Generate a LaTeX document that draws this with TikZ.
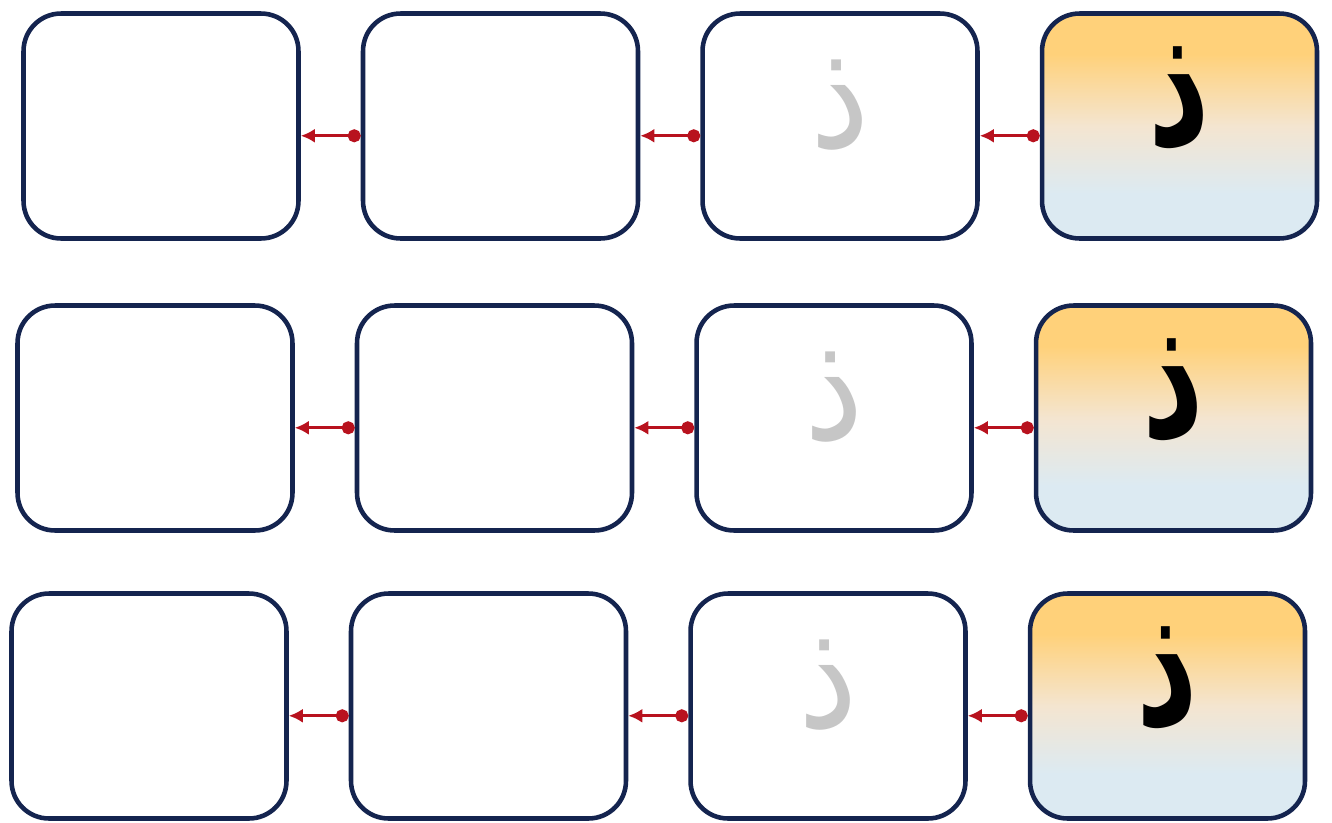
\documentclass[tikz,border=0pt]{standalone}
\usepackage{fontspec}
\newfontfamily\arabicfont[Script=Arabic]{DejaVu Sans}
\TeXXeTstate=1
\usetikzlibrary{arrows.meta,positioning}
\definecolor{marinho}{HTML}{14244F}
\definecolor{vermelho}{HTML}{B8121E}
\definecolor{laranjaclaro}{HTML}{FFD17A}
\definecolor{bege}{HTML}{F4E5D0}
\definecolor{azulclaro}{HTML}{DCEAF2}
\definecolor{cinza}{HTML}{C6C6C6}
\pgfdeclareverticalshading{degrade}{100bp}{color(0bp)=(azulclaro); color(35bp)=(azulclaro);
  color(50bp)=(bege); color(66bp)=(laranjaclaro); color(100bp)=(laranjaclaro)}

\begin{document}
\begin{tikzpicture}[
  x=0.02cm,y=-0.02cm,
  node distance=1.2cm,
  caixa/.style={draw=marinho,line width=2.6pt,rounded corners=0.75cm,fill=white,
                minimum width=5.5cm,minimum height=4.5cm},
  caixacor/.style={caixa,shading=degrade},
  letra/.style={font=\arabicfont\bfseries\fontsize{72}{80}\selectfont,text=black},
  letraclara/.style={font=\arabicfont\fontsize{76}{84}\selectfont,text=cinza},
  lig/.style={draw=vermelho,line width=1.8pt,{Circle[length=2.6mm,width=2.6mm]}-{Latex[length=2.8mm,width=2.8mm]}}
]
  \useasboundingbox (0,0) rectangle (1332,822);
  % primeira linha
  \node[caixa] (a1) at (161,126) {};
  \node[caixa,right=of a1] (b1) {};
  \node[caixa,right=of b1] (c1) {};
  \node[caixacor,right=of c1] (d1) {};
  % segunda linha
  \node[caixa] (a2) at (155,418) {};
  \node[caixa,right=of a2] (b2) {};
  \node[caixa,right=of b2] (c2) {};
  \node[caixacor,right=of c2] (d2) {};
  % terceira linha
  \node[caixa] (a3) at (149,706) {};
  \node[caixa,right=of a3] (b3) {};
  \node[caixa,right=of b3] (c3) {};
  \node[caixacor,right=of c3] (d3) {};
  % letras
  \node[letra] (ld1) at ([yshift=0.56cm]d1.center) {\scalebox{0.95}[1.35]{\beginR ذ\endR}};
  \node[letra] (ld2) at ([yshift=0.56cm]d2.center) {\scalebox{0.95}[1.35]{\beginR ذ\endR}};
  \node[letra] (ld3) at ([yshift=0.56cm]d3.center) {\scalebox{0.95}[1.35]{\beginR ذ\endR}};
  \node[letraclara] (lc1) at ([yshift=0.42cm]c1.center) {\scalebox{1}[1.12]{\beginR ذ\endR}};
  \node[letraclara] (lc2) at ([yshift=0.42cm]c2.center) {\scalebox{1}[1.12]{\beginR ذ\endR}};
  \node[letraclara] (lc3) at ([yshift=0.42cm]c3.center) {\scalebox{1}[1.12]{\beginR ذ\endR}};
  % setas
  \draw[lig] (d1.184) -- (c1.356);
  \draw[lig] (c1.184) -- (b1.356);
  \draw[lig] (b1.184) -- (a1.356);
  \draw[lig] (d2.184) -- (c2.356);
  \draw[lig] (c2.184) -- (b2.356);
  \draw[lig] (b2.184) -- (a2.356);
  \draw[lig] (d3.184) -- (c3.356);
  \draw[lig] (c3.184) -- (b3.356);
  \draw[lig] (b3.184) -- (a3.356);
\end{tikzpicture}
\end{document}
